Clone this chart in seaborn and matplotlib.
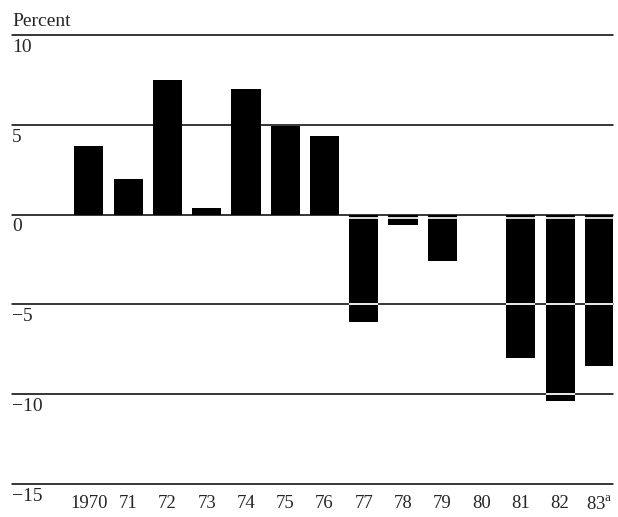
import matplotlib
matplotlib.use("Agg")
import matplotlib.pyplot as plt
import seaborn as sns
import pandas as pd

# chart data
years = ["1970", "71", "72", "73", "74", "75", "76", "77", "78", "79", "80", "81", "82", "83"]
year_labels = ["1970", "71", "72", "73", "74", "75", "76", "77", "78", "79", "80", "81", "82", "83$^{\\mathrm{a}}$"]
change = [3.8, 2.0, 7.5, 0.4, 7.0, 4.95, 4.4, -6.0, -0.6, -2.6, 0.0, -8.0, -10.4, -8.4]
grid_levels = [10, 5, 0, -5, -10, -15]
grid_labels = ["10", "5", "0", "\u22125", "\u221210", "\u221215"]

sns.set_style("white")
plt.rcParams["font.family"] = ["Liberation Serif", "DejaVu Serif"]
plt.rcParams["mathtext.fontset"] = "custom"
plt.rcParams["mathtext.rm"] = "Liberation Serif"

data = pd.DataFrame({"year": years, "change": change})

fig = plt.figure(figsize=(6.18, 5.17), dpi=100)
ax = fig.add_axes([0.0194, 0.0638, 0.9726, 0.8682])

bar_w = 0.74
sns.barplot(data=data, x="year", y="change", order=years, color="black",
            saturation=1, width=bar_w, linewidth=0, ax=ax, zorder=2)

# horizontal rules
for lvl in grid_levels:
    ax.axhline(lvl, color="black", lw=1.1, zorder=1, clip_on=False)

# white scratches where the rules pass through the negative bars
for i, v in enumerate(change):
    if v < 0:
        ax.hlines(-0.17, i - bar_w / 2, i + bar_w / 2, color="white", lw=1.2, zorder=3)
    for lvl in [-5, -10]:
        if v < lvl:
            ax.hlines(lvl, i - bar_w / 2, i + bar_w / 2, color="white", lw=1.3, zorder=3)

ax.set_ylim(-15, 10)
ax.set_xlim(-1.96, 13.35)
ax.set_yticks([])
ax.set_xticks(range(len(years)))
ax.set_xticklabels(year_labels, fontsize=13.5)
ax.tick_params(axis="x", length=0, pad=8)
ax.set_xlabel("")
ax.set_ylabel("")
sns.despine(ax=ax, left=True, bottom=True)

# value labels sit just under each rule, flush left
for lvl, lab in zip(grid_levels, grid_labels):
    ax.text(0.0, lvl - 0.2, lab, transform=ax.get_yaxis_transform(),
            ha="left", va="top", fontsize=14)

fig.text(0.0194, 1 - 26 / 517, "Percent", ha="left", va="baseline", fontsize=14)

fig.savefig("out.png", dpi=100)
